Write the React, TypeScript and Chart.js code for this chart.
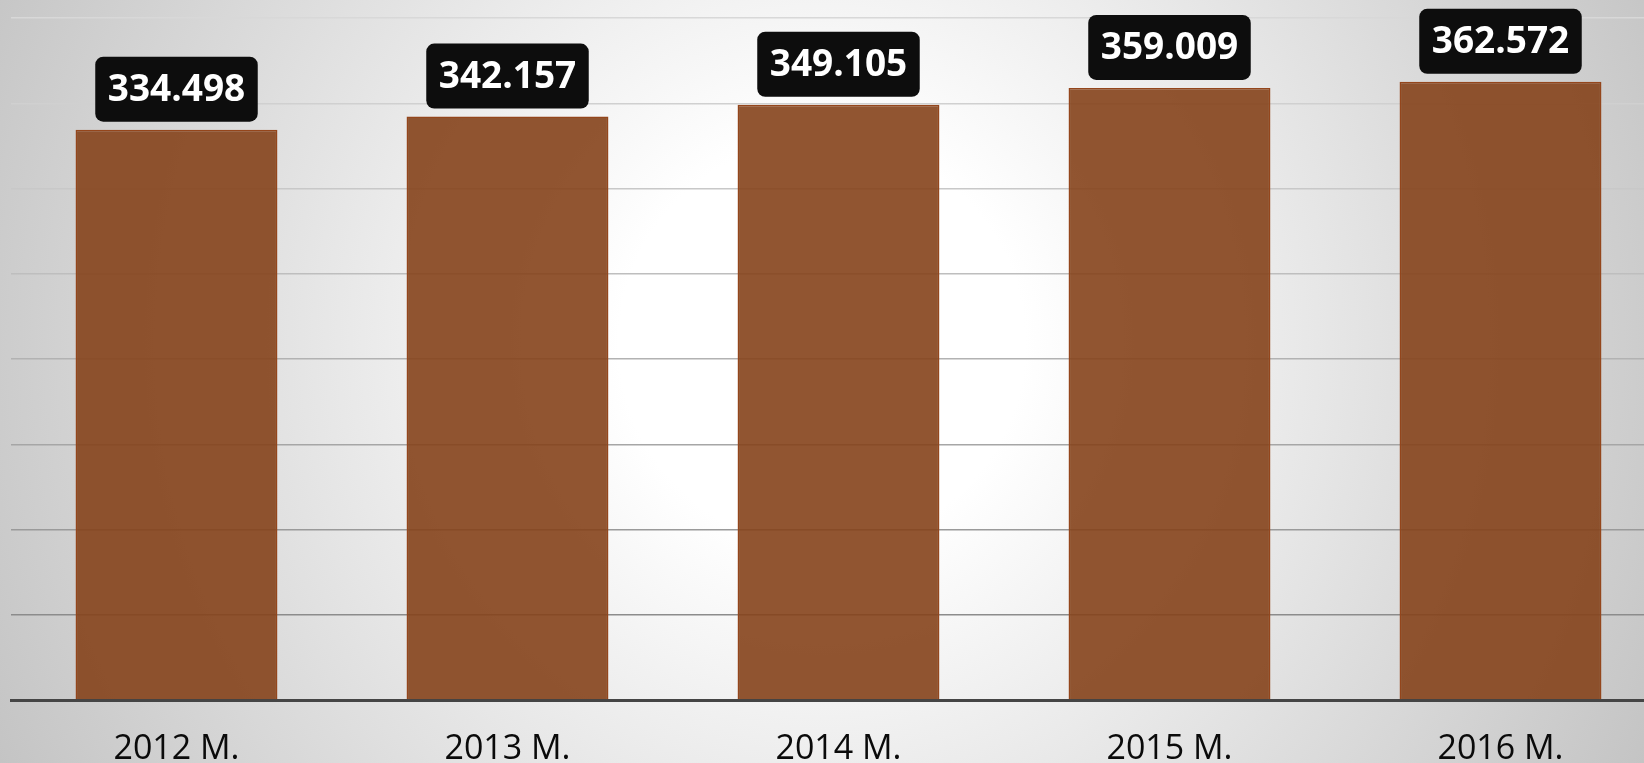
import React, { useEffect, useRef } from "react";
import { Chart, registerables } from "chart.js";

Chart.register(...registerables);

const categories = ["2012 M.", "2013 M.", "2014 M.", "2015 M.", "2016 M."];
const values = [334.498, 342.157, 349.105, 359.009, 362.572];
const valueLabels = ["334.498", "342.157", "349.105", "359.009", "362.572"];
const yMin = 0;
const yMax = 400;
const yStep = 50;
// grid line colours from the bottom (0) to the top (400)
const gridColors = [
  "rgba(0,0,0,0)",
  "#8c8c8c",
  "#9a9a9a",
  "#a6a6a6",
  "#b2b2b2",
  "#bebebe",
  "#c8c8c8",
  "#d0d0d0",
  "#d8d8d8",
];

const CANVAS_W = 1680;
const CANVAS_H = 800;

const labelBoxPlugin = {
  id: "labelBoxes",
  afterDatasetsDraw(chart: any) {
    const ctx = chart.ctx;
    const meta = chart.getDatasetMeta(0);
    ctx.save();
    ctx.font = "bold 37px 'Open Sans'";
    ctx.textAlign = "center";
    ctx.textBaseline = "middle";
    meta.data.forEach((bar: any, i: number) => {
      const text = valueLabels[i];
      const tw = ctx.measureText(text).width;
      const w = tw + 25;
      const h = 65;
      const bottom = bar.y - 8;
      const left = bar.x - w / 2;
      const top = bottom - h;
      ctx.beginPath();
      ctx.roundRect(left, top, w, h, 8);
      ctx.fillStyle = "#0d0d0d";
      ctx.fill();
      ctx.fillStyle = "#ffffff";
      ctx.fillText(text, bar.x, top + h / 2 + 1);
    });
    ctx.restore();
  },
};

export default function App() {
  const ref = useRef<HTMLCanvasElement | null>(null);

  useEffect(() => {
    if (!ref.current) return;
    const chart = new Chart(ref.current, {
      type: "bar",
      data: {
        labels: categories,
        datasets: [
          {
            data: values,
            backgroundColor: "rgba(133,67,27,0.9)",
            borderColor: "#94461c",
            borderWidth: 1.5,
            barPercentage: 0.61,
            categoryPercentage: 1,
          },
        ],
      },
      options: {
        responsive: false,
        animation: false,
        devicePixelRatio: 1,
        layout: { padding: { left: 11, top: 18, right: CANVAS_W - 1666, bottom: 1.2 } },
        plugins: { legend: { display: false }, tooltip: { enabled: false } },
        scales: {
          x: {
            grid: { display: false, drawTicks: false },
            border: { display: true, color: "#454545", width: 3 },
            ticks: {
              padding: 29,
              color: "#0a0a0a",
              font: { family: "'Open Sans'", size: 34 },
            },
          },
          y: {
            min: yMin,
            max: yMax,
            grid: {
              drawTicks: false,
              lineWidth: 1.5,
              color: (c: any) => gridColors[c.index] ?? "#cccccc",
            },
            border: { display: false },
            ticks: { display: false, stepSize: yStep },
          },
        },
      },
      plugins: [labelBoxPlugin],
    });
    return () => chart.destroy();
  }, []);

  return (
    <div
      style={{
        position: "fixed",
        left: 0,
        top: 0,
        width: 1644,
        height: 763,
        overflow: "hidden",
        background:
          "radial-gradient(circle farthest-corner at 50% 45%, #ffffff 0%, #ffffff 22%, #c4c4c4 100%)",
      }}
    >
      <canvas
        ref={ref}
        width={CANVAS_W}
        height={CANVAS_H}
        style={{ display: "block", width: CANVAS_W, height: CANVAS_H }}
      />
    </div>
  );
}
